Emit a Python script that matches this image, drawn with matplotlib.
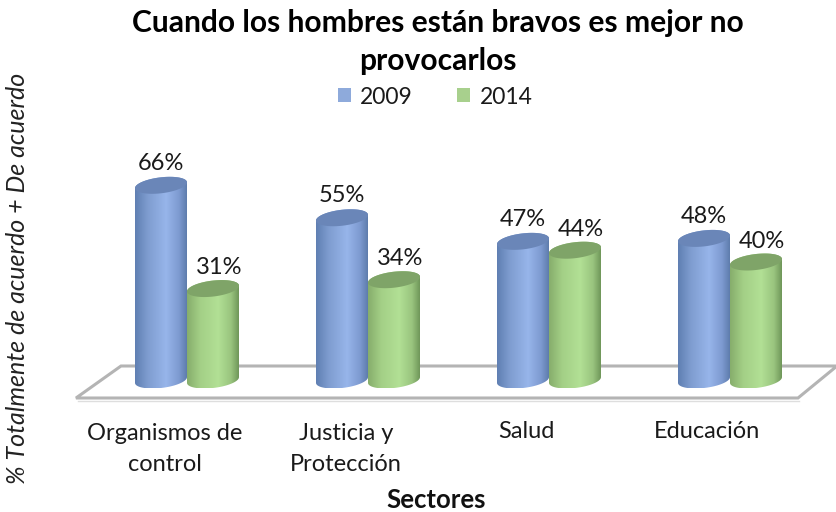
import matplotlib
matplotlib.use("Agg")
import matplotlib.pyplot as plt
import numpy as np
from matplotlib.colors import LinearSegmentedColormap
from matplotlib.patches import Patch, PathPatch, Polygon
from matplotlib.path import Path
from matplotlib.transforms import Affine2D

plt.rcParams["font.family"] = ["Lato", "DejaVu Sans"]

# Data
sectores = ["Organismos de\ncontrol", "Justicia y\nProtección", "Salud", "Educación"]
valores_2009 = [66, 55, 47, 48]
valores_2014 = [31, 34, 44, 40]

etiqueta_x = [165, 346, 526, 707]
etiqueta_y = [449, 449, 431, 431]

W, H = 837, 512
fig = plt.figure(figsize=(W / 100, H / 100), dpi=100, facecolor="white")
ax = fig.add_axes([0, 0, 1, 1])

# Scale: one group = 181 px, one percent = 2.95 px, origin at the first group / floor
PX_X = 181
PX_Y = 2.95
X0, Y0 = 187, 380
ax.set_xlim(-X0 / PX_X, (W - X0) / PX_X)
ax.set_ylim(-(H - Y0) / PX_Y, Y0 / PX_Y)
ax.axis("off")

# Pixel coordinates measured from the top left, for the decoration and the texts
px = Affine2D().scale(1, -1).translate(0, H)

# Floor of the 3D chart
piso = Polygon([(76, 398), (798, 398), (837, 366), (121, 366)], closed=True, fill=False,
               edgecolor="#b4b4b4", linewidth=2.2, transform=px, zorder=1)
ax.add_patch(piso)
ax.plot([78, 799], [400.5, 400.5], color="#dedede", linewidth=1, transform=px, zorder=1)

cmap_azul = LinearSegmentedColormap.from_list(
    "azul", [(0, "#5f7fb2"), (0.25, "#7f9dd0"), (0.6, "#97b5ea"), (0.85, "#7d9ad0"), (1, "#5e7cac")])
cmap_verde = LinearSegmentedColormap.from_list(
    "verde", [(0, "#86ad6c"), (0.25, "#a3cf86"), (0.6, "#b2e095"), (0.85, "#99c47e"), (1, "#6f9659")])


def elipse(cx, cy, a, b, t):
    # tilted ellipse, right side slightly higher, like the perspective of the bars
    x = cx + a * np.cos(t)
    y = cy + b * np.sin(t) + 0.11 * (PX_X / PX_Y) * a * np.cos(t)
    return x, y


def cilindro(cx, valor, cmap, color_tapa, z):
    a = 26 / PX_X
    b = 8 / PX_Y
    t_abajo = np.linspace(np.pi, 2 * np.pi, 50)
    t_arriba = np.linspace(0, np.pi, 50)
    xb, yb = elipse(cx, 0, a, b, t_abajo)
    xt, yt = elipse(cx, valor, a, b, t_arriba)
    cuerpo = Path(np.c_[np.r_[xb, xt], np.r_[yb, yt]], closed=False)
    degradado = np.linspace(0, 1, 256).reshape(1, -1)
    im = ax.imshow(degradado, cmap=cmap, aspect="auto", zorder=z,
                   extent=(cx - a, cx + a, yb.min(), yt.max()))
    clip = PathPatch(cuerpo, transform=ax.transData, facecolor="none", edgecolor="none")
    ax.add_patch(clip)
    im.set_clip_path(clip)
    t = np.linspace(0, 2 * np.pi, 100)
    xc, yc = elipse(cx, valor, a, b, t)
    ax.fill(xc, yc, color=color_tapa, zorder=z + 0.1, linewidth=0)


posiciones = np.arange(len(sectores))
offset = 26 / PX_X
for i in posiciones:
    cilindro(i - offset, valores_2009[i], cmap_azul, "#6a86b8", 3 + i)
    cilindro(i + offset, valores_2014[i], cmap_verde, "#7fa468", 3.5 + i)
    ax.annotate(f"{valores_2009[i]}%", (i - offset, valores_2009[i]), xytext=(0, 22 * 0.72),
                textcoords="offset points", ha="center", va="center", fontsize=17,
                color="#1a1a1a", zorder=10)
    ax.annotate(f"{valores_2014[i]}%", (i + offset, valores_2014[i]), xytext=(6 * 0.72, 21 * 0.72),
                textcoords="offset points", ha="center", va="center", fontsize=17,
                color="#1a1a1a", zorder=10)
    ax.text(etiqueta_x[i], etiqueta_y[i], sectores[i], transform=px, ha="center", va="center",
            fontsize=17, color="#1a1a1a", linespacing=1.55)

# Titles
ax.text(438, 23, "Cuando los hombres están bravos es mejor no", transform=px, ha="center", va="center",
        fontsize=21.6, fontweight="bold", color="black")
ax.text(438, 61, "provocarlos", transform=px, ha="center", va="center",
        fontsize=21.6, fontweight="bold", color="black")
ax.text(436, 500, "Sectores", transform=px, ha="center", va="center",
        fontsize=18.5, fontweight="bold", color="#111111")
ax.text(18, 278, "% Totalmente de acuerdo + De acuerdo", transform=px, ha="center", va="center",
        rotation=90, fontsize=18, fontstyle="italic", color="#222222")

# Legend
ley = ax.legend(handles=[Patch(facecolor="#8eaadb", label="2009"), Patch(facecolor="#a8d08d", label="2014")],
                ncol=2, frameon=False, loc="center", bbox_to_anchor=(435 / W, 1 - 97 / H),
                fontsize=16.5, handlelength=0.57, handleheight=0.57, columnspacing=1.95, handletextpad=0.4)
for t in ley.get_texts():
    t.set_color("#1a1a1a")

fig.savefig("out.png", dpi=100, facecolor="white")
